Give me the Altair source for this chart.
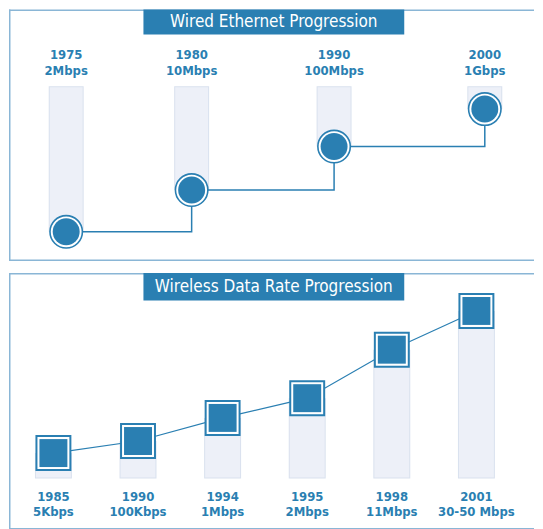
import altair as alt
import pandas as pd

# ---- data ----
wired_years = [1975, 1980, 1990, 2000]
wired_rates = ["2Mbps", "10Mbps", "100Mbps", "1Gbps"]
wired_level = [11.6, 28.2, 45.5, 60.4]          # visual level (0-100 of panel height)

wireless_years = ["1985", "1990", "1994", "1995", "1998", "2001"]
wireless_rates = ["5Kbps", "100Kbps", "1Mbps", "2Mbps", "11Mbps", "30-50 Mbps"]
wireless_level = [29.8, 34.5, 43.5, 51.2, 70.1, 85.2]

titles = ["Wired Ethernet Progression", "Wireless Data Rate Progression"]

BLUE = "#2a7fb2"
BAR_FILL = "#edf0f8"
BAR_EDGE = "#d9e1ee"
BORDER = "#8ab6d6"
TITLE_FONT = "DejaVu Sans Condensed, DejaVu Sans, sans-serif"
LABEL_FONT = "DejaVu Sans Condensed, DejaVu Sans, sans-serif"

W = 526
H1 = 252
H2 = 257


def frame(df, h):
    left = alt.Chart(df).mark_rule(color=BORDER, strokeWidth=1.5).encode(
        x=alt.value(0.75), y=alt.value(0), y2=alt.value(h))
    top_ = alt.Chart(df).mark_rule(color=BORDER, strokeWidth=1.5).encode(
        x=alt.value(0), x2=alt.value(W), y=alt.value(0.75))
    bot = alt.Chart(df).mark_rule(color=BORDER, strokeWidth=1.5).encode(
        x=alt.value(0), x2=alt.value(W), y=alt.value(h - 0.75))
    return [left, top_, bot]


wired = pd.DataFrame({"year": wired_years, "rate": wired_rates, "level": wired_level})
wireless = pd.DataFrame({"year": wireless_years, "rate": wireless_rates, "level": wireless_level})

# ---------------- top panel ----------------
xw = alt.X("year:Q", axis=None,
           scale=alt.Scale(type="linear", domain=wired_years, range=[57.3, 183, 325.7, 476.7]))
yw = alt.Y("level:Q", axis=None, scale=alt.Scale(domain=[0, 100], nice=False, zero=True))

base_w = alt.Chart(wired)

w_bar_edge = base_w.mark_rule(color=BAR_EDGE, strokeWidth=35).encode(x=xw, y=yw, y2=alt.value(77))
w_bar = base_w.mark_rule(color=BAR_FILL, strokeWidth=33).encode(x=xw, y=yw, y2=alt.value(78))
w_line = base_w.mark_line(interpolate="step-after", color=BLUE, strokeWidth=1.5).encode(x=xw, y=yw)
w_outer = base_w.mark_point(shape="circle", filled=True, fill="white", stroke=BLUE,
                            strokeWidth=1.6, size=1056, opacity=1).encode(x=xw, y=yw)
w_inner = base_w.mark_circle(color=BLUE, size=729, opacity=1).encode(x=xw, y=yw)
w_lab1 = base_w.mark_text(font=LABEL_FONT, fontWeight="bold", fontSize=13, color=BLUE,
                          baseline="middle").encode(x=xw, y=alt.value(46), text="year:N")
w_lab2 = base_w.mark_text(font=LABEL_FONT, fontWeight="bold", fontSize=13, color=BLUE,
                          baseline="middle").encode(x=xw, y=alt.value(61.3), text="rate:N")

t1 = pd.DataFrame({"t": [titles[0]]})
w_tbox = alt.Chart(t1).mark_rect(color=BLUE).encode(
    x=alt.value(134.7), x2=alt.value(396), y=alt.value(0), y2=alt.value(25))
w_ttext = alt.Chart(t1).mark_text(font=TITLE_FONT, fontSize=17, color="white",
                                  baseline="middle").encode(
    x=alt.value(265.3), y=alt.value(12.5), text="t:N")

top = alt.layer(*frame(t1, H1), w_bar_edge, w_bar, w_line, w_outer, w_inner, w_lab1, w_lab2,
                w_tbox, w_ttext).properties(width=W, height=H1)

# ---------------- bottom panel ----------------
xl = alt.X("year:O", axis=None, sort=None,
           scale=alt.Scale(type="point", range=[44.5, 468.3], padding=0))
yl = alt.Y("level:Q", axis=None, scale=alt.Scale(domain=[0, 100], nice=False, zero=True))

base_l = alt.Chart(wireless)

l_bar_edge = base_l.mark_rule(color=BAR_EDGE, strokeWidth=37).encode(x=xl, y=yl, y2=alt.value(206))
l_bar = base_l.mark_rule(color=BAR_FILL, strokeWidth=35).encode(x=xl, y=yl, y2=alt.value(205))
l_line = base_l.mark_line(color=BLUE, strokeWidth=1.2).encode(x=xl, y=yl)
l_outer = base_l.mark_square(fill="white", stroke=BLUE, strokeWidth=2, size=1156,
                             opacity=1).encode(x=xl, y=yl)
l_inner = base_l.mark_square(color=BLUE, size=784, opacity=1).encode(x=xl, y=yl)
l_lab1 = base_l.mark_text(font=LABEL_FONT, fontWeight="bold", fontSize=13, color=BLUE,
                          baseline="middle").encode(x=xl, y=alt.value(224), text="year:N")
l_lab2 = base_l.mark_text(font=LABEL_FONT, fontWeight="bold", fontSize=13, color=BLUE,
                          baseline="middle").encode(x=xl, y=alt.value(239.5), text="rate:N")

t2 = pd.DataFrame({"t": [titles[1]]})
l_tbox = alt.Chart(t2).mark_rect(color=BLUE).encode(
    x=alt.value(134.7), x2=alt.value(396), y=alt.value(0), y2=alt.value(27.5))
l_ttext = alt.Chart(t2).mark_text(font=TITLE_FONT, fontSize=17, color="white",
                                  baseline="middle").encode(
    x=alt.value(265.3), y=alt.value(14.5), text="t:N")

bottom = alt.layer(*frame(t2, H2), l_bar_edge, l_bar, l_line, l_outer, l_inner, l_lab1, l_lab2,
                   l_tbox, l_ttext).properties(width=W, height=H2)

chart = alt.vconcat(top, bottom, spacing=10).properties(padding=0).configure_view(
    stroke="transparent", strokeWidth=0)

chart.save("out.html", embed_options={"renderer": "svg", "actions": False})
